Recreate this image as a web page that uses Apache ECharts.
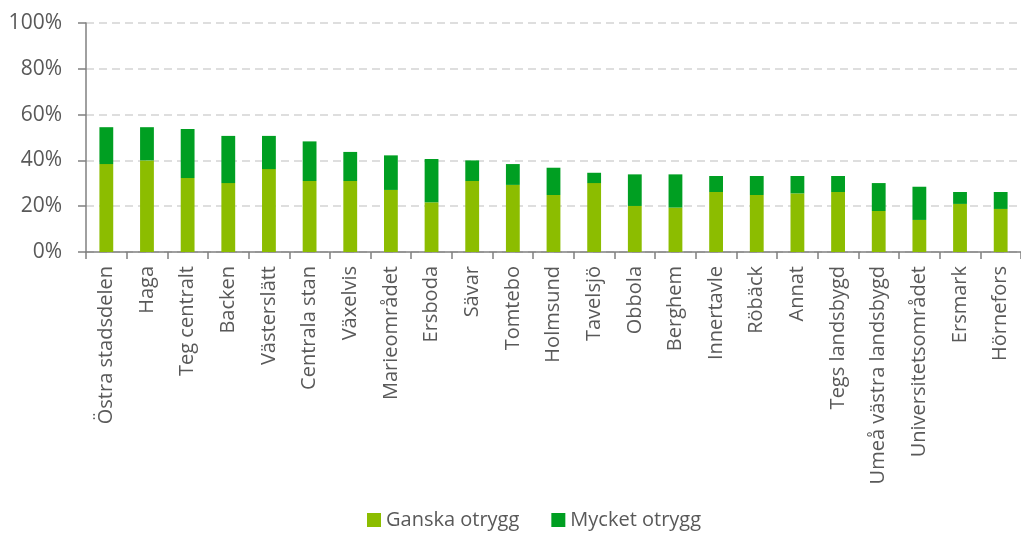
<!DOCTYPE html>
<html>
<head>
<meta charset="utf-8">
<script src="https://cdn.jsdelivr.net/npm/echarts@6/dist/echarts.min.js"></script>
<style>
  html, body { margin: 0; padding: 0; background: #fff; }
  #main { width: 1021px; height: 537px; }
</style>
</head>
<body>
<div id="main"></div>
<script>
// områden, sorterade efter total andel otrygga
const categories = [
  'Östra stadsdelen', 'Haga', 'Teg centralt', 'Backen', 'Västerslätt', 'Centrala stan',
  'Växelvis', 'Marieområdet', 'Ersboda', 'Sävar', 'Tomtebo', 'Holmsund', 'Tavelsjö',
  'Obbola', 'Berghem', 'Innertavle', 'Röbäck', 'Annat', 'Tegs landsbygd',
  'Umeå västra landsbygd', 'Universitetsområdet', 'Ersmark', 'Hörnefors'
];
const ganskaOtrygg = [
  38.4, 40.0, 32.3, 30.1, 36.2, 31.0, 31.0, 27.1, 21.7, 31.0, 29.3, 24.9,
  30.1, 20.1, 19.4, 26.2, 24.9, 25.6, 26.2, 17.9, 14.0, 21.0, 18.8
];
const mycketOtrygg = [
  16.1, 14.5, 21.4, 20.6, 14.5, 17.3, 12.7, 15.1, 18.9, 9.0, 9.1, 11.9,
  4.5, 13.8, 14.5, 7.0, 8.3, 7.6, 7.0, 12.2, 14.5, 5.2, 7.4
];
const yTicks = [0, 20, 40, 60, 80, 100];

const textColor = '#595959';
const axisColor = '#808080';
const font = '"Open Sans", "DejaVu Sans", sans-serif';

const chart = echarts.init(document.getElementById('main'));
chart.setOption({
  animation: false,
  textStyle: { fontFamily: font, color: textColor },
  legend: {
    left: 362,
    bottom: 2,
    itemWidth: 14,
    itemHeight: 14,
    itemGap: 32,
    icon: 'rect',
    textStyle: { fontSize: 20, color: textColor, fontFamily: font },
    data: ['Ganska otrygg', 'Mycket otrygg']
  },
  grid: { left: 86, right: -7, top: 23, bottom: 285, containLabel: false },
  xAxis: {
    type: 'category',
    data: categories,
    axisLine: { lineStyle: { color: axisColor, width: 1.5 } },
    axisTick: { show: true, length: 7, alignWithLabel: false, lineStyle: { color: axisColor, width: 1.5 } },
    axisLabel: {
      interval: 0,
      rotate: 90,
      margin: 14,
      fontSize: 20,
      color: textColor,
      fontFamily: font
    }
  },
  yAxis: {
    type: 'value',
    min: yTicks[0],
    max: yTicks[yTicks.length - 1],
    interval: 20,
    axisLine: { show: true, lineStyle: { color: axisColor, width: 1.5 } },
    axisTick: { show: true, inside: false, length: 8, lineStyle: { color: axisColor, width: 1.5 } },
    axisLabel: {
      formatter: '{value}%',
      margin: 24,
      fontSize: 21,
      color: textColor,
      fontFamily: font
    },
    splitLine: { lineStyle: { color: '#d3d3d3', type: [8, 5], width: 1.5 } }
  },
  series: [
    {
      name: 'Ganska otrygg',
      type: 'bar',
      stack: 'total',
      barWidth: '34%',
      itemStyle: { color: '#8cbd00' },
      data: ganskaOtrygg
    },
    {
      name: 'Mycket otrygg',
      type: 'bar',
      stack: 'total',
      barWidth: '34%',
      itemStyle: { color: '#009f22' },
      data: mycketOtrygg
    }
  ]
});
</script>
</body>
</html>
